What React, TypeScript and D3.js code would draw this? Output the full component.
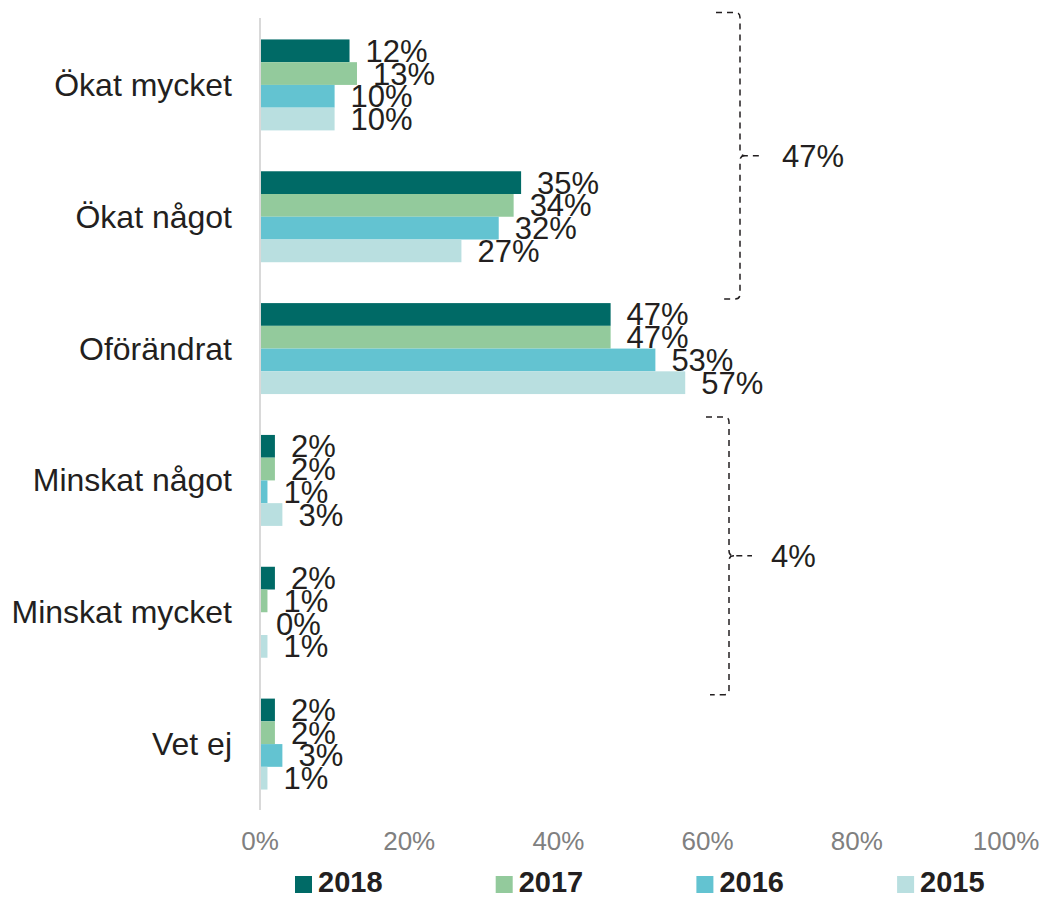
import React from "react";
import * as d3 from "d3";

const categories = ["Ökat mycket", "Ökat något", "Oförändrat", "Minskat något", "Minskat mycket", "Vet ej"];
const years = ["2018", "2017", "2016", "2015"];
const values2018 = [12, 35, 47, 2, 2, 2];
const values2017 = [13, 34, 47, 2, 1, 2];
const values2016 = [10, 32, 53, 1, 0, 3];
const values2015 = [10, 27, 57, 3, 1, 1];
const colors = ["#006A66", "#93CA9C", "#63C3D1", "#B9DFE0"];
const xTicks = [0, 20, 40, 60, 80, 100];
const brackets = [
  { from: "Ökat mycket", to: "Ökat något", label: "47%" },
  { from: "Minskat något", to: "Minskat mycket", label: "4%" },
];

const W = 1046;
const H = 897;
const FONT = "'Liberation Sans', Arial, sans-serif";

export default function App() {
  const series = [values2018, values2017, values2016, values2015];
  const x = d3.scaleLinear().domain([0, 100]).range([260, 1006]);
  const y = d3.scaleBand<string>().domain(categories).range([19, 810]).paddingInner(0.31).paddingOuter(0.155);
  const inner = d3.scaleBand<string>().domain(years).range([0, y.bandwidth()]);

  const bracketShapes = brackets.map((b, i) => {
    const step = y.step();
    let top: number, bottom: number, bx: number, hook: number;
    if (i === 0) {
      top = (y(b.from) as number) - 27;
      bottom = (y(b.to) as number) + step - 4;
      bx = 740;
      hook = 24;
    } else {
      top = (y(b.from) as number) - 18;
      bottom = (y(b.to) as number) + y.bandwidth() + 37;
      bx = 729;
      hook = 23;
    }
    const mid = (top + bottom) / 2;
    const r = 5;
    const path =
      `M${bx - hook},${top} L${bx - r},${top} Q${bx},${top} ${bx},${top + r} ` +
      `L${bx},${mid - r} Q${bx},${mid} ${bx + r},${mid} L${bx + 23},${mid} ` +
      `M${bx + r},${mid} Q${bx},${mid} ${bx},${mid + r} ` +
      `L${bx},${bottom - r} Q${bx},${bottom} ${bx - r},${bottom} L${bx - hook + 4},${bottom}`;
    return { path, mid, tx: bx + 42, label: b.label };
  });

  return (
    <svg width={W} height={H} style={{ position: "absolute", left: 0, top: 0, background: "#fff" }} fontFamily={FONT}>
      <rect x={0} y={0} width={W} height={H} fill="#fff" />
      {categories.map((c, ci) => (
        <g key={c}>
          {series.map((vals, si) => {
            const y0 = (y(c) as number) + (inner(years[si]) as number);
            const h = inner.bandwidth();
            const v = vals[ci];
            return (
              <g key={si}>
                <rect x={x(0)} y={y0} width={x(v) - x(0)} height={h} fill={colors[si]} />
                <text x={x(v) + 16} y={y0 + h / 2 + 11} fontSize={31} fill="#231f20">
                  {v}%
                </text>
              </g>
            );
          })}
          <text
            x={232}
            y={(y(c) as number) + y.bandwidth() / 2 + 11}
            textAnchor="end"
            fontSize={32}
            fill="#231f20"
          >
            {c}
          </text>
        </g>
      ))}
      <line x1={x(0)} x2={x(0)} y1={18} y2={810} stroke="#d9d9d9" strokeWidth={2} />
      {xTicks.map((t) => (
        <text key={t} x={x(t)} y={850} textAnchor="middle" fontSize={26} fill="#808080">
          {t}%
        </text>
      ))}
      {bracketShapes.map((b, i) => (
        <g key={i}>
          <path d={b.path} fill="none" stroke="#231f20" strokeWidth={1.5} strokeDasharray="6,5" />
          <text x={b.tx} y={b.mid + 11} fontSize={31} fill="#231f20">
            {b.label}
          </text>
        </g>
      ))}
      {years.map((yr, i) => (
        <g key={yr} transform={`translate(${295 + i * 200.7},0)`}>
          <rect x={0} y={876} width={17} height={17} fill={colors[i]} />
          <text x={23} y={892} fontSize={29} fontWeight="bold" fill="#231f20">
            {yr}
          </text>
        </g>
      ))}
    </svg>
  );
}
